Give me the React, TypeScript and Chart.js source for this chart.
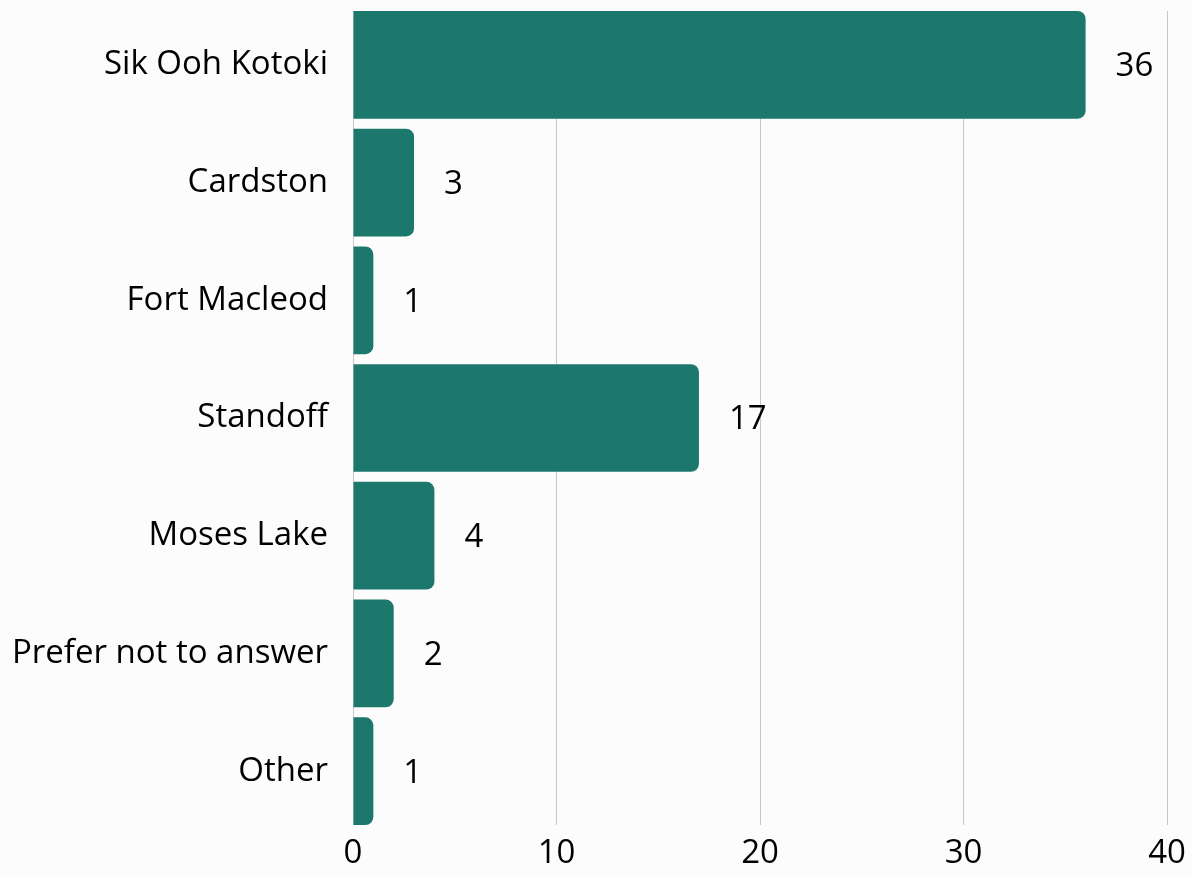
import React, { useEffect, useRef } from "react";
import { Chart, registerables } from "chart.js";

Chart.register(...registerables);

const categories = [
  "Sik Ooh Kotoki",
  "Cardston",
  "Fort Macleod",
  "Standoff",
  "Moses Lake",
  "Prefer not to answer",
  "Other",
];
const counts = [36, 3, 1, 17, 4, 2, 1];
const xTickValues = [0, 10, 20, 30, 40];

const FONT = "Open Sans";
const BAR_COLOR = "#1c786d";
const GRID_COLOR = "#c8c8c8";
const BG = "#fcfcfc";
const Y_MIN = -0.4575;
const Y_MAX = 6.4575;

const valueLabels = {
  id: "valueLabels",
  afterDatasetsDraw(chart: any) {
    const ctx = chart.ctx;
    const meta = chart.getDatasetMeta(0);
    ctx.save();
    ctx.font = `33px "${FONT}"`;
    ctx.fillStyle = "#000";
    ctx.textAlign = "left";
    ctx.textBaseline = "middle";
    meta.data.forEach((bar: any, i: number) => {
      ctx.fillText(String(counts[i]), bar.x + 30, bar.y + 2);
    });
    ctx.restore();
  },
};

export default function App() {
  const ref = useRef<HTMLCanvasElement | null>(null);
  useEffect(() => {
    if (!ref.current) return;
    const chart = new Chart(ref.current, {
      type: "bar",
      data: {
        datasets: [
          {
            data: counts.map((c, i) => ({ x: c, y: i })),
            backgroundColor: BAR_COLOR,
            borderRadius: 8,
            borderSkipped: "start",
            categoryPercentage: 1,
            barPercentage: 0.915,
          },
        ],
      },
      options: {
        indexAxis: "y",
        animation: false,
        responsive: false,
        maintainAspectRatio: false,
        layout: { padding: { top: 11, right: 25, bottom: 0, left: 0 } },
        plugins: { legend: { display: false }, tooltip: { enabled: false } },
        scales: {
          x: {
            type: "linear",
            min: 0,
            max: 40,
            bounds: "data",
            afterBuildTicks: (s: any) => {
              s.ticks = xTickValues.map((v) => ({ value: v }));
            },
            afterFit: (s: any) => {
              s.height = 51;
              s.paddingLeft = 0;
              s.paddingRight = 0;
            },
            grid: { color: GRID_COLOR, lineWidth: 1, drawTicks: false },
            border: { display: false },
            ticks: {
              color: "#000",
              font: { family: FONT, size: 33 },
              padding: 9,
            },
          },
          y: {
            type: "linear",
            reverse: true,
            offset: false,
            min: Y_MIN,
            max: Y_MAX,
            bounds: "data",
            afterBuildTicks: (s: any) => {
              s.ticks = categories.map((_, i) => ({ value: i }));
            },
            afterFit: (s: any) => {
              s.width = 353;
              s.paddingTop = 0;
              s.paddingBottom = 0;
            },
            grid: { display: false, drawTicks: false, offset: false },
            border: { display: false },
            ticks: {
              color: "#000",
              font: { family: FONT, size: 33 },
              padding: 25,
              autoSkip: false,
              callback: (v: any) => categories[Number(v)] ?? "",
            },
          },
        },
      },
      plugins: [valueLabels],
    } as any);
    return () => chart.destroy();
  }, []);
  return (
    <div style={{ position: "fixed", left: 0, top: 0, width: 1192, height: 876, background: BG }}>
      <canvas ref={ref} width={1192} height={876} style={{ display: "block" }} />
    </div>
  );
}
